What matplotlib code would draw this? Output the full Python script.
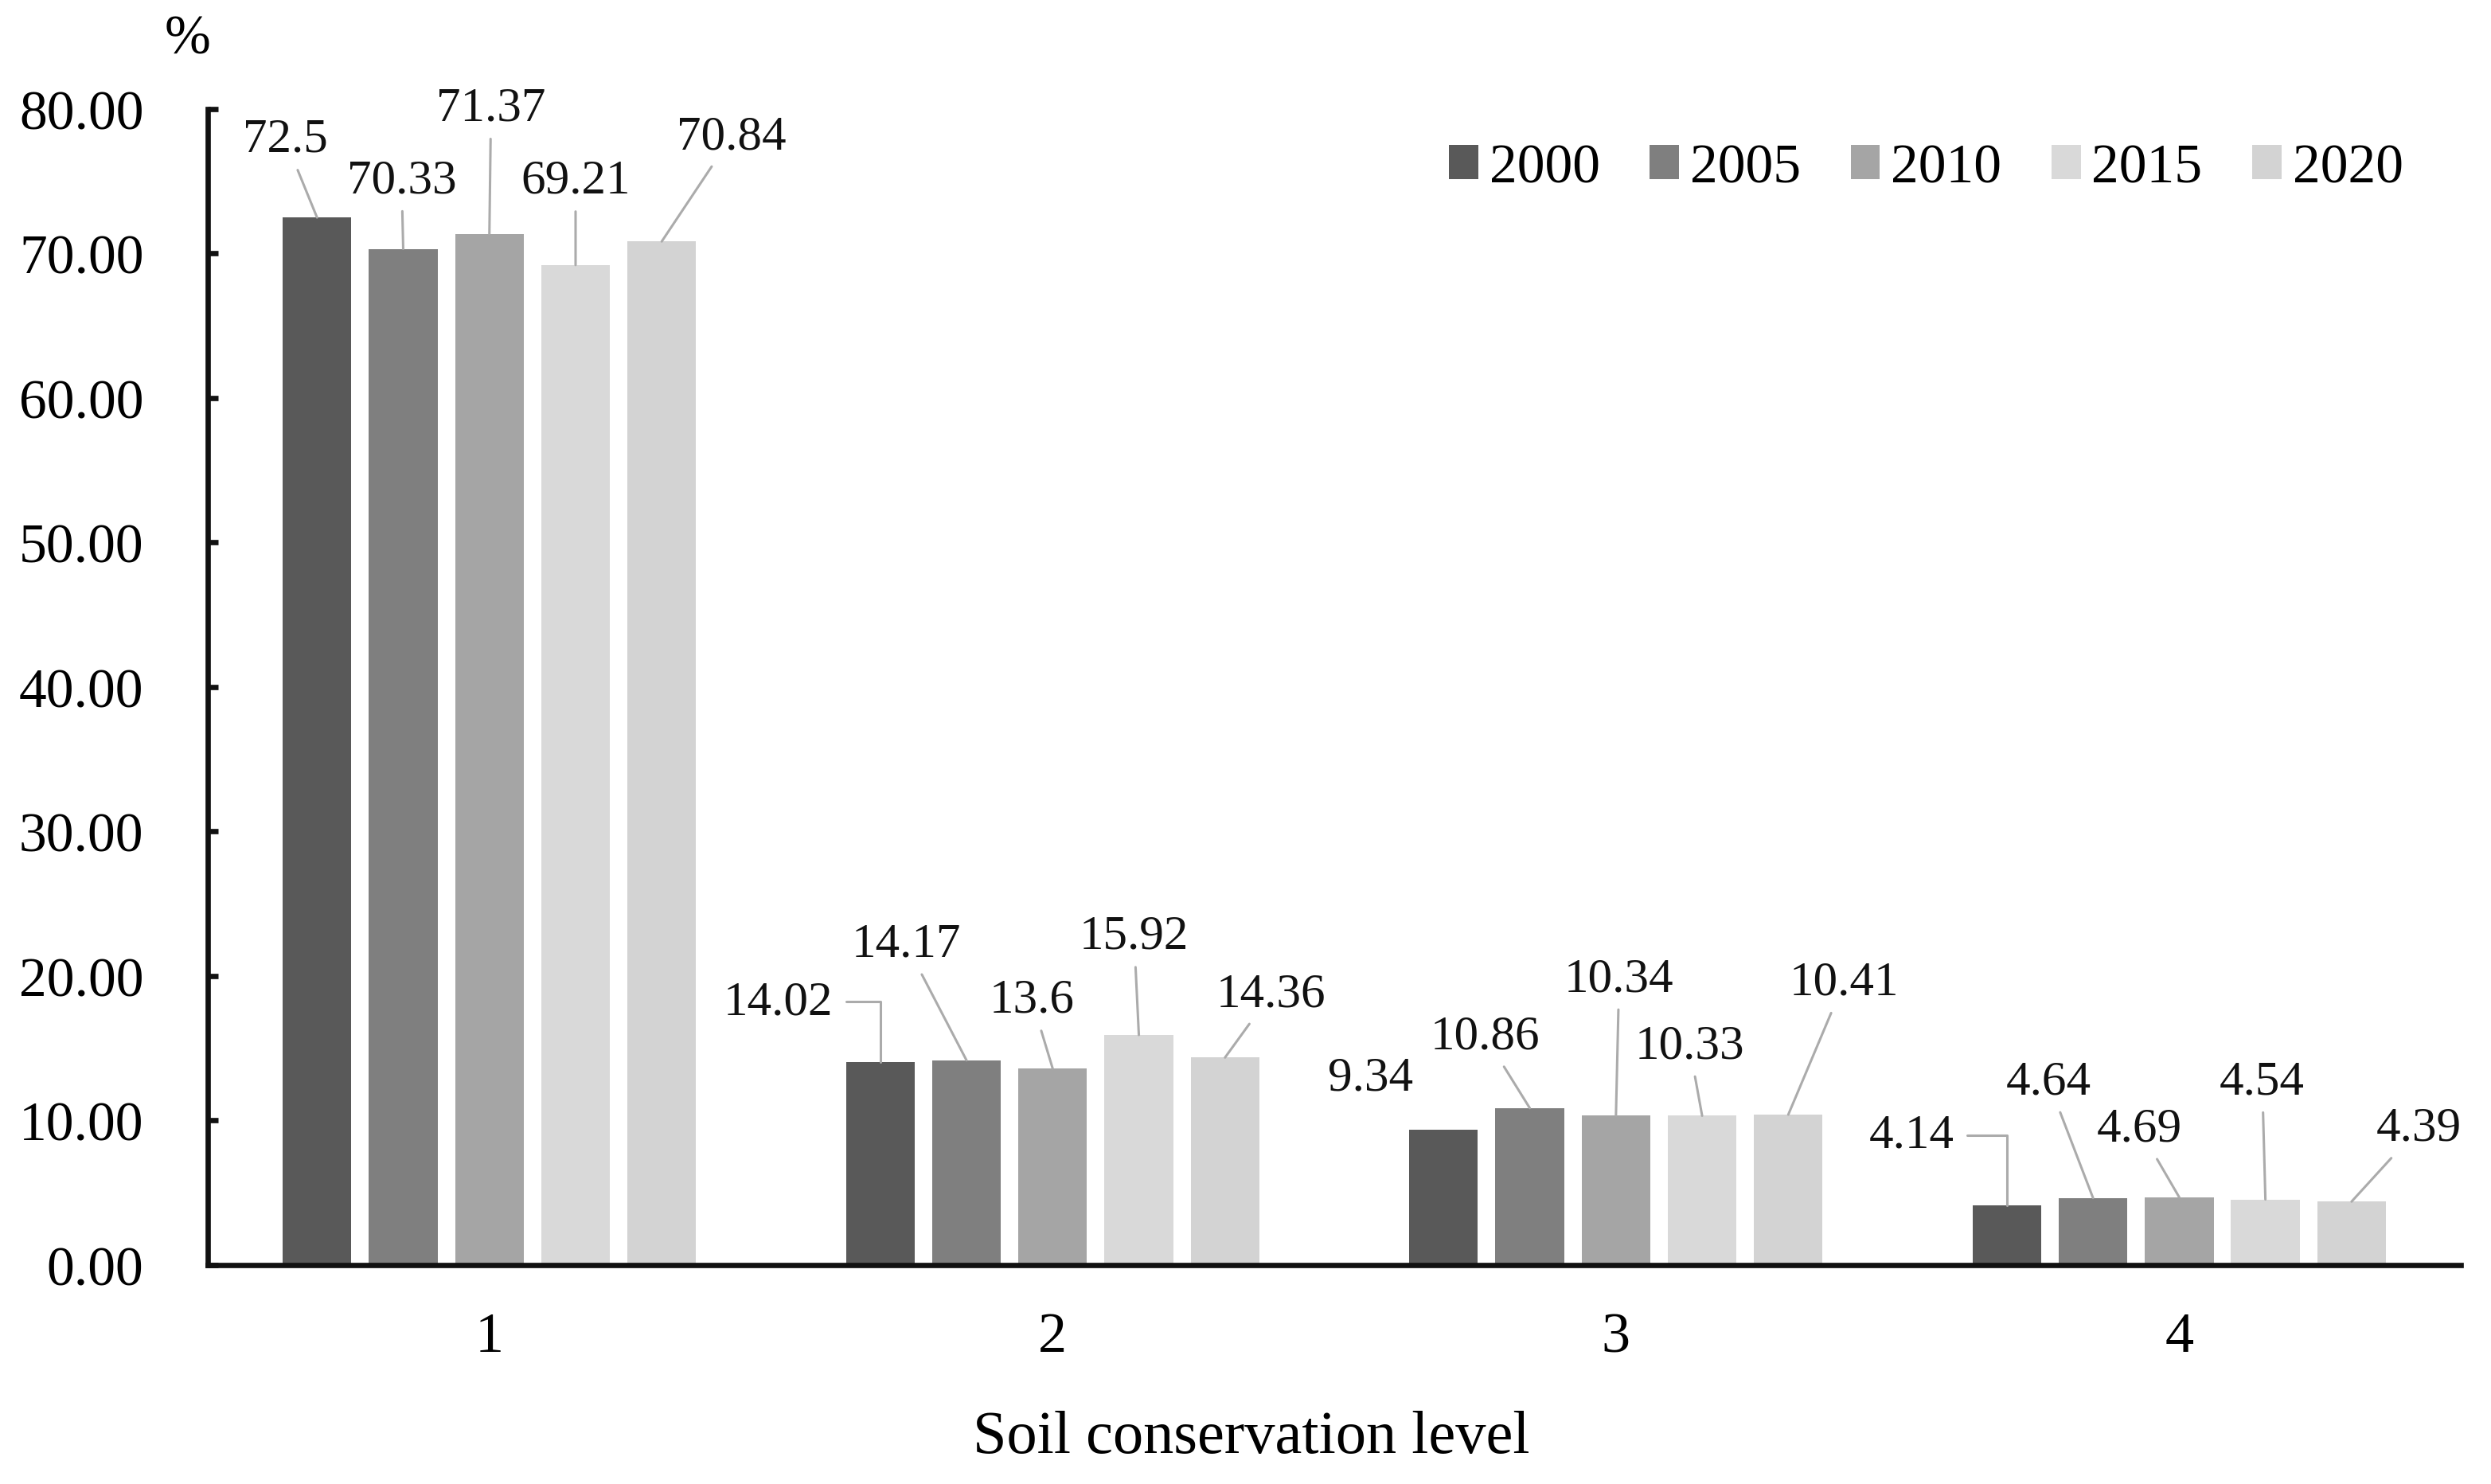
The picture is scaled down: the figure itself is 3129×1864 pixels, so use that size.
import matplotlib
matplotlib.use('Agg')
import matplotlib.pyplot as plt
import numpy as np

plt.rcParams['font.family'] = ['Liberation Serif', 'DejaVu Serif']

# ===== Data (percent of area per soil conservation level) =====
levels = ['1', '2', '3', '4']
years = ['2000', '2005', '2010', '2015', '2020']
v2000 = [72.5, 14.02, 9.34, 4.14]
v2005 = [70.33, 14.17, 10.86, 4.64]
v2010 = [71.37, 13.6, 10.34, 4.69]
v2015 = [69.21, 15.92, 10.33, 4.54]
v2020 = [70.84, 14.36, 10.41, 4.39]
series = [v2000, v2005, v2010, v2015, v2020]

# ===== Style =====
COLORS = ['#595959', '#7f7f7f', '#a5a5a5', '#d9d9d9', '#d3d3d3']
LEADER = '#ababab'
BAR_W = 0.122
BAR_STEP = 0.153

# label offsets from bar top (measured in half-size reference pixels), per year, per level
LAB_DX = [[-20, -64, -46, -60],
          [-1, -38, -28, -28],
          [1, -13, 2, -25],
          [0, -3, -8, -2],
          [44, 29, 35, 42]]
LAB_DY = [[49, 38, 33, 44],
          [43, 73, 45, 73],
          [79, 43, 86, 43],
          [53, 62, 44, 74],
          [66, 40, 83, 46]]
# 'l' = straight leader, 'e' = elbow leader, 'n' = no leader
LAB_KIND = [['l', 'e', 'n', 'e'],
            ['l', 'l', 'l', 'l'],
            ['l', 'l', 'l', 'l'],
            ['l', 'l', 'l', 'l'],
            ['l', 'l', 'l', 'l']]
PT = 0.72  # half-size px -> points at dpi 200

fig = plt.figure(figsize=(15.645, 9.325), dpi=200)
ax = fig.add_axes([0.0834, 0.1475, 0.9045, 0.7785])

x = np.arange(len(levels))
for i, (vals, yr) in enumerate(zip(series, years)):
    xs = x + (i - 2) * BAR_STEP
    ax.bar(xs, vals, width=BAR_W, color=COLORS[i], label=yr, zorder=2)
    for j, v in enumerate(vals):
        kind = LAB_KIND[i][j]
        if kind == 'n':
            arrow = None
        elif kind == 'e':
            arrow = dict(arrowstyle='-', color=LEADER, lw=1.1, relpos=(1, 0.5),
                         shrinkA=4, shrinkB=0,
                         connectionstyle='angle,angleA=0,angleB=90,rad=0')
        else:
            arrow = dict(arrowstyle='-', color=LEADER, lw=1.1, shrinkA=2, shrinkB=0)
        ax.annotate(f'{v:g}', xy=(xs[j], v),
                    xytext=(LAB_DX[i][j] * PT, LAB_DY[i][j] * PT),
                    textcoords='offset points', ha='center', va='center',
                    fontsize=22, color='#111111', arrowprops=arrow, zorder=3)

ax.set_xlim(-0.5, len(levels) - 0.5)
ax.set_ylim(0, 80)
ax.set_yticks(np.arange(0, 81, 10))
ax.set_yticklabels([f'{t:.2f}' for t in np.arange(0, 81, 10)])
ax.set_xticks(x)
ax.set_xticklabels(levels)

for s in ['top', 'right']:
    ax.spines[s].set_visible(False)
for s in ['left', 'bottom']:
    ax.spines[s].set_linewidth(2.4)
    ax.spines[s].set_color('#111111')

ax.tick_params(axis='y', direction='in', length=4.5, width=2.4, pad=29,
               labelsize=25, color='#111111')
ax.tick_params(axis='x', length=0, pad=21, labelsize=26)

fig.text(0.0754, 0.973, '%', ha='center', va='center', fontsize=25)
fig.text(0.5024, 0.0316, 'Soil conservation level', ha='center', va='center', fontsize=27.5)

fig.legend(loc='center left', bbox_to_anchor=(1820 / 3129, 0.886), ncol=5,
           frameon=False, fontsize=25, borderpad=0, borderaxespad=0,
           handlelength=0.53, handleheight=0.58, handletextpad=0.2,
           columnspacing=0.9)

fig.savefig('out.png', dpi=200, facecolor='white')
